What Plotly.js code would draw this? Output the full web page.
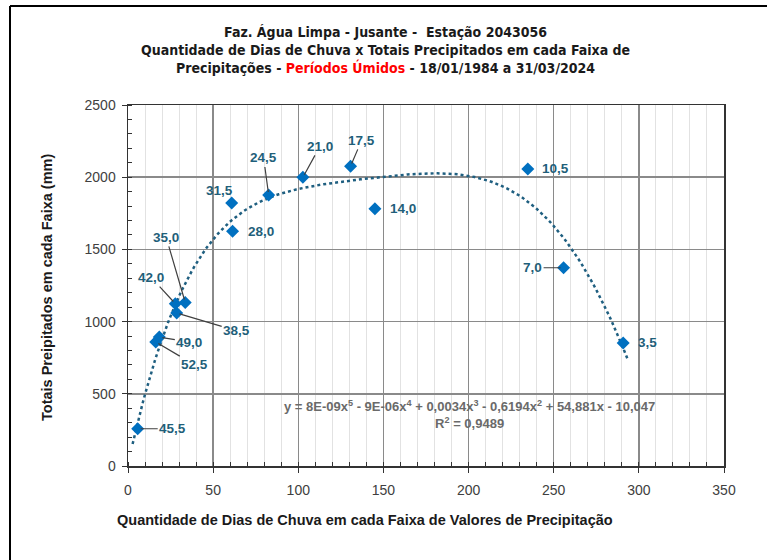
<!DOCTYPE html>
<html>
<head>
<meta charset="utf-8">
<script src="https://cdn.plot.ly/plotly-3.0.1.min.js"></script>
<style>
  html, body { margin: 0; padding: 0; background: #fff; }
  #chart { width: 767px; height: 560px; }
</style>
</head>
<body>
<div id="chart"></div>
<script>
// faixas de precipitação (rótulos dos pontos)
var faixas = ['45,5', '52,5', '49,0', '42,0', '38,5', '35,0', '31,5', '28,0', '24,5', '21,0', '17,5', '14,0', '10,5', '7,0', '3,5'];
// quantidade de dias de chuva em cada faixa
var dias = [5.7, 16.3, 18.4, 27.8, 28.6, 33.6, 60.9, 61.4, 82.6, 102.7, 130.7, 145, 234.8, 255.8, 290.8];
// totais precipitados em cada faixa (mm)
var totais = [258, 859, 893, 1124, 1060, 1133, 1821, 1625, 1877, 1999, 2075, 1782, 2057, 1373, 852];

var equacao = 'y = 8E-09x<sup>5</sup> - 9E-06x<sup>4</sup> + 0,0034x<sup>3</sup> - 0,6194x<sup>2</sup> + 54,881x - 10,047';
var r2 = 'R<sup>2</sup> = 0,9489';

// label placement (pixels): [ax, ay, leader line?]
var labelPos = [
  [35, 0, true], [39, 23, true], [30, 5, true], [-24, -26, true], [60, 18, true],
  [-19, -65, true], [-12, -13, false], [28, 0, false], [-5, -37, true], [17, -31, true],
  [11, -26, true], [28, 0, false], [28, 0, false], [-31, 0, true], [24, 0, false]
];

// polynomial trendline (degree 5, least squares), like Excel does
function polyfit(xs, ys, deg) {
  var s = 100; // scale x to keep the system well conditioned
  var n = deg + 1, A = [], b = [];
  for (var i = 0; i < n; i++) {
    A.push([]);
    for (var j = 0; j < n; j++) {
      var sum = 0;
      for (var k = 0; k < xs.length; k++) sum += Math.pow(xs[k] / s, i + j);
      A[i].push(sum);
    }
    var sb = 0;
    for (var k = 0; k < xs.length; k++) sb += ys[k] * Math.pow(xs[k] / s, i);
    b.push(sb);
  }
  for (var c = 0; c < n; c++) {
    var p = c;
    for (var r = c + 1; r < n; r++) if (Math.abs(A[r][c]) > Math.abs(A[p][c])) p = r;
    var t = A[c]; A[c] = A[p]; A[p] = t;
    t = b[c]; b[c] = b[p]; b[p] = t;
    for (var r = c + 1; r < n; r++) {
      var f = A[r][c] / A[c][c];
      for (var q = c; q < n; q++) A[r][q] -= f * A[c][q];
      b[r] -= f * b[c];
    }
  }
  var coef = new Array(n);
  for (var r = n - 1; r >= 0; r--) {
    var v = b[r];
    for (var q = r + 1; q < n; q++) v -= A[r][q] * coef[q];
    coef[r] = v / A[r][r];
  }
  return function (x) {
    var y = 0;
    for (var i = 0; i < n; i++) y += coef[i] * Math.pow(x / s, i);
    return y;
  };
}

var fit = polyfit(dias, totais, 5);
var x0 = Math.min.apply(null, dias) - 3, x1 = Math.max.apply(null, dias) + 3;
var tx = [], ty = [];
for (var i = 0; i <= 200; i++) {
  var xv = x0 + (x1 - x0) * i / 200;
  tx.push(xv);
  ty.push(fit(xv));
}

var trend = {
  x: tx, y: ty, type: 'scatter', mode: 'lines',
  line: { color: '#1f5f80', width: 2.5, dash: 'dot' },
  hoverinfo: 'skip'
};

var pontos = {
  x: dias, y: totais, type: 'scatter', mode: 'markers',
  marker: { symbol: 'diamond', size: 10, color: '#0070c0' }
};

var annotations = [];
for (var i = 0; i < faixas.length; i++) {
  var lp = labelPos[i];
  var a = {
    x: dias[i], y: totais[i], xref: 'x', yref: 'y', text: faixas[i],
    font: { family: 'Liberation Sans, Arial, sans-serif', size: 13.5, color: '#1f5f7a', weight: 'bold' }
  };
  if (lp[2]) {
    a.showarrow = true; a.arrowhead = 0; a.arrowwidth = 1.2; a.arrowcolor = '#404040';
    a.ax = lp[0]; a.ay = lp[1]; a.standoff = 3;
  } else {
    a.showarrow = false; a.xshift = lp[0]; a.yshift = -lp[1];
  }
  annotations.push(a);
}

// pixel -> paper helpers (plot area 128..724 x 105..466)
function px(v) { return (v - 128) / 596; }
function py(v) { return (466 - v) / 361; }

// equation and R²
annotations.push({
  x: px(469), y: py(414), xref: 'paper', yref: 'paper', showarrow: false, align: 'center',
  xanchor: 'center', yanchor: 'middle',
  text: equacao + '<br>' + r2,
  font: { family: 'Liberation Sans, Arial, sans-serif', size: 13, color: '#6a6a6a', weight: 'bold' }
});

// titles
annotations.push({
  x: px(385), y: py(50), xref: 'paper', yref: 'paper', showarrow: false,
  align: 'center', xanchor: 'center', yanchor: 'middle',
  text: 'Faz. Água Limpa - Jusante -  Estação 2043056<br>Quantidade de Dias de Chuva x Totais Precipitados em cada Faixa de<br>Precipitações - <span style="color:#ff0000">Períodos Úmidos</span> - 18/01/1984 a 31/03/2024',
  font: { family: 'Liberation Sans Narrow, DejaVu Sans Condensed, Arial Narrow, sans-serif', size: 14, color: '#1a1a1a', weight: 'bold' }
});
annotations.push({
  x: px(365), y: py(520), xref: 'paper', yref: 'paper', showarrow: false,
  xanchor: 'center', yanchor: 'middle',
  text: 'Quantidade de Dias de Chuva em cada Faixa de Valores de Precipitação',
  font: { family: 'Liberation Sans, Arial, sans-serif', size: 14.5, color: '#1a1a1a', weight: 'bold' }
});
annotations.push({
  x: px(47), y: py(288), xref: 'paper', yref: 'paper', showarrow: false,
  xanchor: 'center', yanchor: 'middle', textangle: -90,
  text: 'Totais Preipitados em cada Faixa (mm)',
  font: { family: 'Liberation Sans, Arial, sans-serif', size: 14.5, color: '#1a1a1a', weight: 'bold' }
});

var layout = {
  width: 767, height: 560,
  margin: { l: 128, r: 43, t: 105, b: 94 },
  showlegend: false,
  paper_bgcolor: '#ffffff', plot_bgcolor: '#ffffff',
  font: { family: 'Liberation Sans, Arial, sans-serif', size: 14, color: '#404040' },
  xaxis: {
    range: [0, 350], dtick: 50, tick0: 0,
    showgrid: true, gridcolor: '#8a8a8a', gridwidth: 1.5,
    zeroline: false, showline: true, mirror: true, linecolor: '#333333', linewidth: 1.5,
    ticks: 'outside', ticklen: 5, tickcolor: '#333333', ticklabelstandoff: 6,
    minor: { dtick: 10, showgrid: true, gridcolor: '#e2e2e2', gridwidth: 1, ticks: 'inside', ticklen: 4, tickcolor: '#333333' }
  },
  yaxis: {
    range: [0, 2500], dtick: 500, tick0: 0,
    showgrid: true, gridcolor: '#8a8a8a', gridwidth: 1.5,
    zeroline: false, showline: true, mirror: true, linecolor: '#333333', linewidth: 1.5,
    ticks: 'outside', ticklen: 5, tickcolor: '#333333', ticklabelstandoff: 3,
    minor: { dtick: 100, showgrid: false, ticks: 'inside', ticklen: 4, tickcolor: '#333333' }
  },
  annotations: annotations,
  shapes: [
    { type: 'line', xref: 'paper', yref: 'paper', x0: px(10), x1: px(800), y0: py(6), y1: py(6),
      line: { color: '#000000', width: 2 } },
    { type: 'line', xref: 'paper', yref: 'paper', x0: px(10), x1: px(10), y0: py(6), y1: py(600),
      line: { color: '#000000', width: 2 } }
  ]
};

Plotly.newPlot('chart', [trend, pontos], layout, { staticPlot: true });
</script>
</body>
</html>
